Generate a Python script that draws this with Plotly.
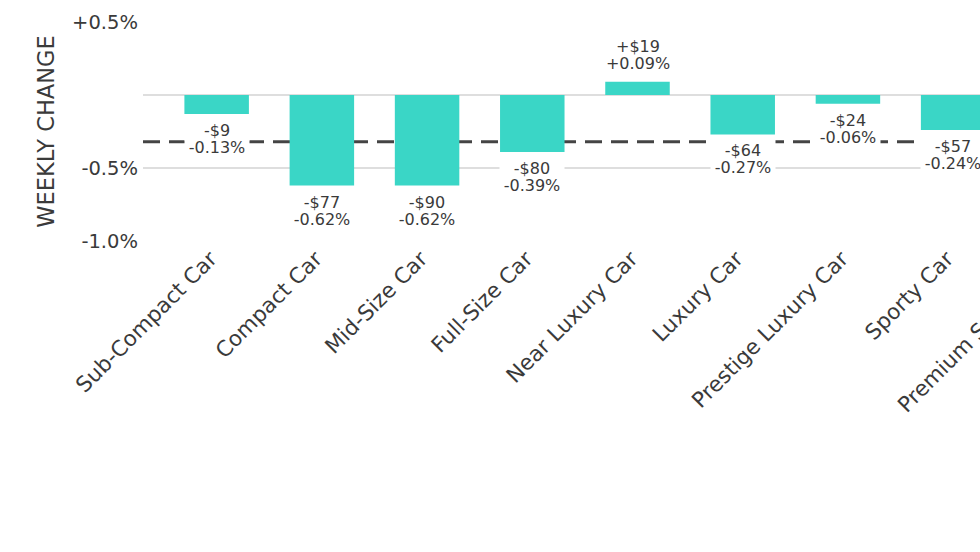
import plotly.graph_objects as go

categories = ["Sub-Compact Car", "Compact Car", "Mid-Size Car", "Full-Size Car",
              "Near Luxury Car", "Luxury Car", "Prestige Luxury Car", "Sporty Car",
              "Premium Sporty Car"]
pct_change = [-0.13, -0.62, -0.62, -0.39, 0.09, -0.27, -0.06, -0.24, None]
dollar_change = [-9, -77, -90, -80, 19, -64, -24, -57, None]
average_change = -0.32
y_tick_vals = [0.5, -0.5, -1.0]
y_tick_text = ["+0.5%", "-0.5%", "-1.0%"]

BAR = "#3AD6C6"
TXT = "#3a3a3a"
FONT = "DejaVu Sans"
GRID = "#dedede"

fig = go.Figure()
fig.add_trace(go.Bar(x=categories, y=pct_change, marker=dict(color=BAR, line=dict(width=0)),
                     hoverinfo="skip"))

fig.add_shape(type="line", xref="paper", x0=0, x1=1, yref="y", y0=average_change, y1=average_change,
              line=dict(color="#444444", width=3, dash="17px,9px"), layer="between")

annotations = []
for c, p, d in zip(categories, pct_change, dollar_change):
    if p is None or d is None:
        continue
    sign = "+" if d > 0 else "-"
    t1 = f"{sign}${abs(d)}"
    t2 = f"{p:+.2f}%"
    common = dict(x=c, y=p, xref="x", yref="y", showarrow=False, bgcolor="white",
                  borderpad=0, width=64, font=dict(family=FONT, size=16, color=TXT))
    if p < 0:
        annotations.append(dict(text=t1, yanchor="top", yshift=-3, height=22, valign="bottom", **common))
        annotations.append(dict(text=t2, yanchor="top", yshift=-24, height=17, valign="middle", **common))
    else:
        annotations.append(dict(text=t2, yanchor="bottom", yshift=9, height=17, valign="middle", **common))
        annotations.append(dict(text=t1, yanchor="bottom", yshift=26, height=17, valign="middle", **common))

fig.update_layout(
    width=1132, height=552,
    margin=dict(l=143, r=0, t=22, b=311),
    paper_bgcolor="white", plot_bgcolor="white",
    showlegend=False, bargap=0.387,
    font=dict(family=FONT, color=TXT),
    annotations=annotations,
    xaxis=dict(range=[-0.7, 8.7], showgrid=False, showline=False, zeroline=False,
               tickangle=-45, tickfont=dict(family=FONT, size=21.5, color=TXT), ticks="",
               ticklabelshift=-6),
    yaxis=dict(range=[-1.0, 0.5], tickvals=y_tick_vals, ticktext=y_tick_text,
               showgrid=True, gridcolor=GRID, gridwidth=1.5,
               zeroline=True, zerolinecolor=GRID, zerolinewidth=1.5,
               showline=False, ticks="", ticklabelstandoff=4,
               tickfont=dict(family=FONT, size=19.5, color=TXT),
               title=dict(text="WEEKLY CHANGE", font=dict(family=FONT, size=22.5, color=TXT),
                          standoff=11)),
)

fig.write_html("out.html",
               post_script="document.documentElement.style.overflow='hidden';document.body.style.overflow='hidden';document.body.style.margin='0';")
